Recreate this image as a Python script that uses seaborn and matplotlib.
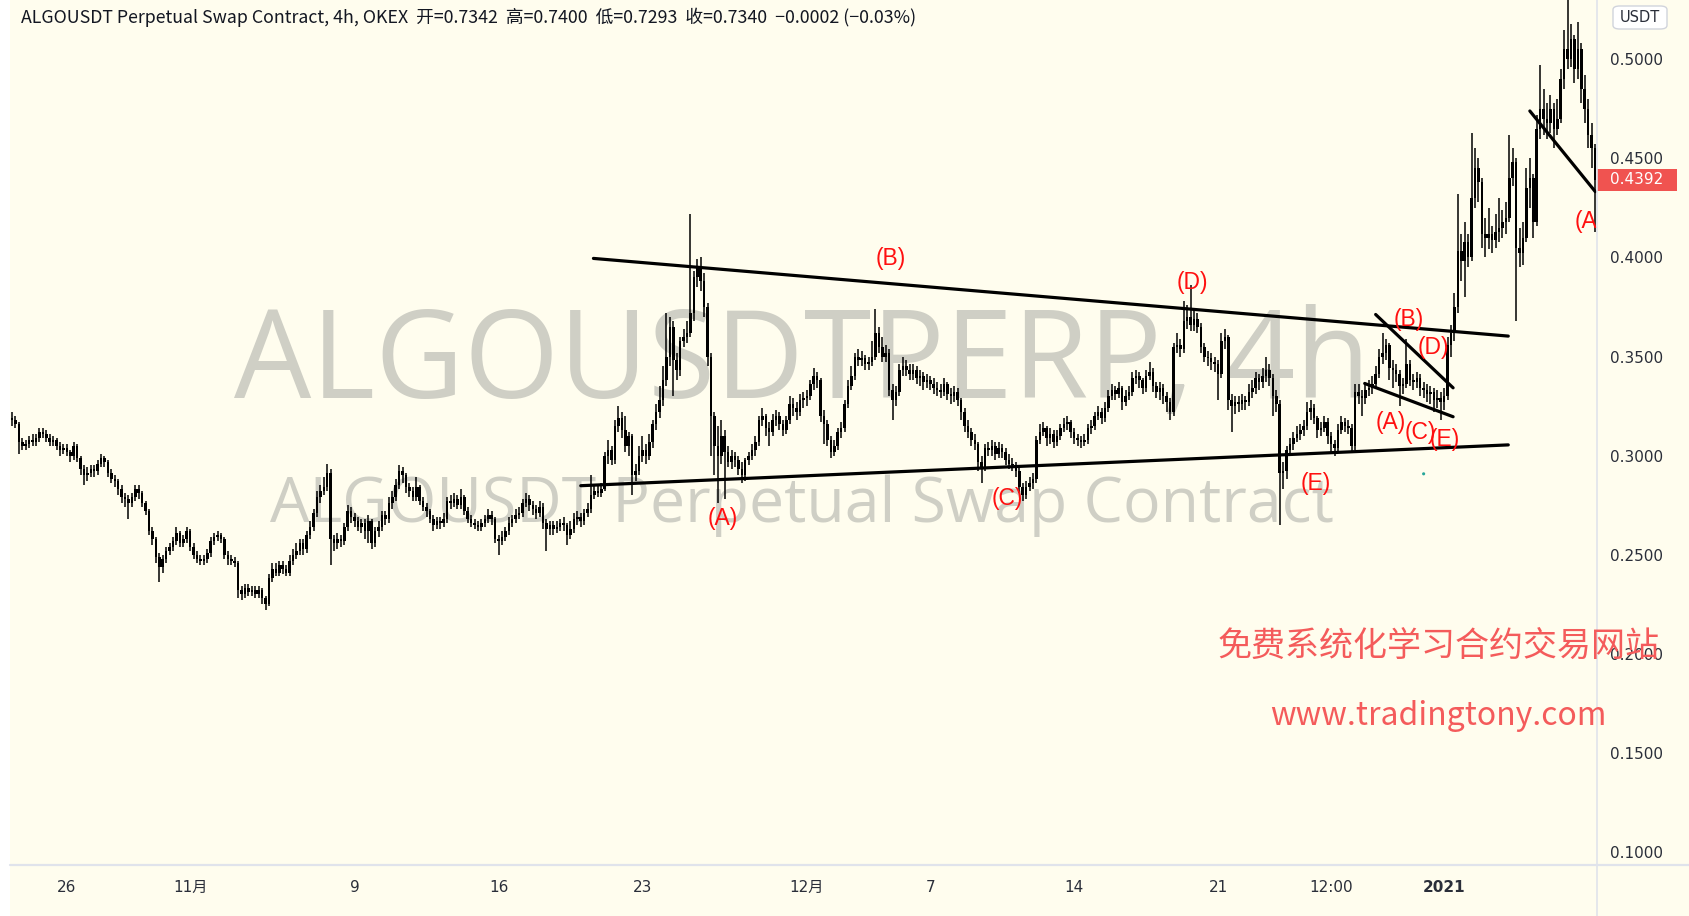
import numpy as np
import pandas as pd
import matplotlib
matplotlib.use("Agg")
import matplotlib.pyplot as plt
import matplotlib.transforms as mtransforms
from matplotlib.patches import Rectangle, FancyBboxPatch
from matplotlib.lines import Line2D
import seaborn as sns

# ---------------- data (prices in thousandths of USDT, 4h candles) ----------------
START = "2020-10-23 08:00"
FIRST_OPEN = 319

CLOSE = [
    318, 316, 307, 305,                    # Oct 23
    306, 308, 307, 309, 312, 311,          # Oct 24
    309, 307, 308, 305, 303, 304,          # Oct 25
    302, 300, 305, 299, 293, 290,          # Oct 26
    291, 293, 292, 296, 299, 297,          # Oct 27
    291, 288, 287, 283, 279, 278,          # Oct 28
    276, 279, 283, 281, 276, 272,          # Oct 29
    262, 258, 249, 244, 248, 252,          # Oct 30
    254, 257, 261, 256, 258, 262,          # Oct 31
    254, 250, 248, 247, 248, 251,          # Nov 1
    257, 259, 260, 258, 250, 248,          # Nov 2
    247, 246, 232, 230, 233, 231,          # Nov 3
    232, 230, 232, 228, 225, 238,          # Nov 4
    243, 241, 245, 243, 241, 247,          # Nov 5
    250, 252, 256, 253, 260, 264,          # Nov 6
    271, 279, 282, 284, 291, 258,          # Nov 7
    256, 258, 257, 264, 272, 269,          # Nov 8
    267, 264, 266, 262, 267, 256,          # Nov 9
    262, 264, 270, 268, 276, 279,          # Nov 10
    285, 292, 290, 284, 282, 279,          # Nov 11
    284, 277, 274, 272, 268, 265,          # Nov 12
    267, 266, 268, 277, 276, 278,          # Nov 13
    275, 279, 272, 268, 266, 265,          # Nov 14
    264, 266, 268, 270, 268, 258,          # Nov 15
    257, 259, 262, 266, 268, 270,          # Nov 16
    271, 276, 278, 275, 273, 271,          # Nov 17
    274, 266, 263, 265, 263, 264,          # Nov 18
    266, 265, 260, 263, 268, 269,          # Nov 19
    267, 271, 273, 280, 282, 281,          # Nov 20
    283, 300, 303, 298, 315, 319,          # Nov 21
    313, 305, 310, 290, 292, 300,          # Nov 22
    303, 300, 307, 316, 322, 328,          # Nov 23
    338, 350, 365, 348, 343, 358,          # Nov 24
    360, 362, 372, 390, 395, 388,          # Nov 25
    375, 350, 320, 305, 300, 310,          # Nov 26
    302, 297, 300, 298, 293, 290,          # Nov 27
    298, 300, 303, 307, 318, 320,          # Nov 28
    314, 312, 318, 320, 316, 313,          # Nov 29
    318, 326, 324, 322, 328, 329,          # Nov 30
    330, 336, 340, 338, 320, 316,          # Dec 1
    308, 302, 305, 312, 314, 326,          # Dec 2
    335, 340, 350, 348, 349, 346,          # Dec 3
    347, 350, 362, 355, 350, 352,          # Dec 4
    333, 328, 332, 343, 345, 343,          # Dec 5
    341, 343, 339, 340, 337, 338,          # Dec 6
    336, 334, 333, 332, 336, 331,          # Dec 7
    330, 332, 328, 322, 315, 312,          # Dec 8
    308, 306, 297, 294, 304, 303,          # Dec 9
    305, 301, 304, 302, 298, 296,          # Dec 10
    295, 292, 284, 280, 284, 286,          # Dec 11
    288, 308, 312, 314, 309, 311,          # Dec 12
    307, 310, 314, 316, 317, 312,          # Dec 13
    309, 308, 307, 308, 314, 315,          # Dec 14
    320, 322, 319, 324, 330, 333,          # Dec 15
    331, 334, 327, 330, 332, 339,          # Dec 16
    340, 338, 334, 340, 342, 335,          # Dec 17
    332, 334, 330, 327, 322, 355,          # Dec 18
    356, 354, 368, 370, 366, 369,          # Dec 19
    365, 355, 350, 349, 347, 346,          # Dec 20
    341, 358, 360, 328, 325, 327,          # Dec 21
    326, 328, 327, 332, 334, 339,          # Dec 22
    337, 340, 343, 339, 330, 326,          # Dec 23
    291, 292, 303, 306, 309, 311,          # Dec 24
    313, 315, 322, 324, 319, 313,          # Dec 25
    314, 317, 310, 306, 304, 313,          # Dec 26
    317, 315, 314, 305, 332, 330,          # Dec 27
    329, 333, 334, 336, 341, 350,          # Dec 28
    352, 356, 344, 343, 341, 335,          # Dec 29
    336, 346, 338, 337, 339, 334,          # Dec 30
    333, 331, 332, 328, 329, 327,          # Dec 31
    330, 356, 362, 375, 403, 398,          # Jan 1
    408, 400, 430, 445, 438, 412,          # Jan 2
    410, 412, 409, 413, 415, 418,          # Jan 3
    420, 440, 448, 405, 402, 410,          # Jan 4
    435, 440, 418, 465, 475, 470,          # Jan 5
    468, 475, 465, 470, 490, 505,          # Jan 6
    500, 510, 495, 505, 485, 475,          # Jan 7
    462, 455, 439.2,                       # Jan 8
]

HIGH = [
    322, 320, 317, 309,
    308, 310, 311, 311, 314, 314,
    313, 311, 310, 309, 307, 306,
    306, 303, 307, 306, 300, 295,
    294, 295, 295, 298, 301, 300,
    298, 293, 290, 288, 285, 281,
    280, 281, 285, 285, 282, 277,
    273, 264, 259, 251, 250, 254,
    256, 259, 264, 262, 260, 264,
    263, 256, 252, 250, 250, 253,
    259, 261, 262, 261, 259, 252,
    250, 249, 247, 234, 235, 235,
    234, 234, 234, 233, 229, 240,
    246, 246, 247, 247, 245, 250,
    253, 256, 258, 258, 262, 267,
    273, 282, 285, 289, 296, 293,
    260, 261, 260, 266, 275, 274,
    271, 269, 268, 268, 270, 268,
    264, 267, 272, 272, 279, 282,
    288, 295, 294, 291, 286, 284,
    289, 285, 279, 276, 273, 270,
    269, 269, 271, 279, 280, 281,
    280, 283, 280, 274, 270, 268,
    267, 268, 270, 273, 272, 269,
    260, 262, 264, 269, 270, 273,
    274, 278, 281, 280, 277, 275,
    277, 276, 268, 267, 267, 267,
    268, 269, 266, 267, 271, 272,
    271, 273, 276, 290, 285, 285,
    286, 302, 308, 305, 318, 325,
    322, 320, 312, 311, 296, 305,
    310, 306, 311, 318, 326, 335,
    345, 372, 370, 368, 352, 360,
    364, 368, 422, 393, 399, 400,
    392, 377, 352, 322, 315, 318,
    313, 305, 303, 302, 300, 297,
    299, 302, 306, 310, 320, 324,
    321, 317, 321, 323, 322, 318,
    320, 330, 329, 327, 331, 332,
    333, 338, 344, 342, 339, 323,
    318, 310, 308, 314, 317, 328,
    338, 345, 352, 354, 353, 351,
    350, 358, 374, 365, 360, 356,
    354, 336, 335, 346, 350, 348,
    346, 346, 345, 343, 342, 341,
    340, 339, 337, 336, 339, 337,
    334, 335, 334, 329, 324, 318,
    314, 311, 307, 300, 306, 307,
    308, 307, 307, 306, 304, 301,
    299, 297, 294, 286, 287, 289,
    291, 310, 316, 317, 315, 314,
    313, 313, 316, 319, 320, 318,
    314, 311, 310, 311, 316, 318,
    322, 325, 324, 327, 333, 336,
    335, 337, 335, 333, 335, 342,
    343, 342, 339, 343, 347, 344,
    337, 337, 336, 332, 329, 357,
    362, 359, 378, 376, 386, 374,
    372, 367, 357, 353, 352, 350,
    348, 362, 364, 361, 331, 330,
    330, 331, 330, 336, 338, 342,
    341, 344, 350, 346, 341, 333,
    328, 297, 305, 309, 312, 315,
    316, 318, 327, 328, 326, 320,
    317, 320, 319, 312, 308, 316,
    320, 319, 318, 316, 336, 336,
    333, 336, 338, 340, 345, 354,
    362, 359, 357, 348, 346, 343,
    339, 359, 348, 341, 342, 341,
    337, 336, 335, 334, 333, 332,
    334, 360, 366, 382, 432, 412,
    418, 412, 463, 455, 450, 440,
    420, 425, 416, 422, 430, 424,
    428, 462, 455, 450, 415, 418,
    445, 450, 442, 472, 497, 485,
    478, 482, 478, 480, 495, 515,
    530, 518, 512, 519, 508, 492,
    480, 468, 457,
]

LOW = [
    315, 314, 301, 303,
    303, 304, 305, 305, 307, 309,
    307, 305, 305, 303, 300, 301,
    300, 297, 298, 297, 290, 285,
    287, 289, 289, 290, 294, 294,
    289, 286, 284, 280, 276, 274,
    268, 274, 277, 278, 274, 270,
    260, 255, 246, 236, 241, 246,
    250, 252, 255, 254, 254, 256,
    252, 248, 246, 245, 245, 246,
    249, 255, 257, 256, 248, 245,
    245, 244, 228, 227, 228, 229,
    229, 228, 228, 225, 222, 224,
    236, 239, 239, 240, 239, 239,
    245, 248, 250, 250, 251, 258,
    262, 269, 276, 280, 282, 245,
    252, 253, 254, 255, 262, 266,
    264, 262, 261, 258, 256, 253,
    254, 259, 262, 265, 266, 273,
    277, 283, 286, 281, 279, 277,
    277, 275, 272, 269, 266, 262,
    263, 263, 264, 266, 273, 274,
    273, 273, 270, 266, 264, 263,
    262, 262, 264, 266, 265, 256,
    250, 255, 257, 260, 264, 266,
    268, 269, 274, 272, 270, 268,
    269, 263, 252, 260, 260, 261,
    262, 262, 255, 258, 261, 265,
    264, 265, 269, 271, 278, 279,
    279, 282, 296, 295, 296, 312,
    309, 302, 300, 280, 287, 290,
    297, 296, 298, 304, 313, 319,
    325, 335, 345, 330, 338, 340,
    355, 357, 360, 368, 385, 383,
    370, 345, 300, 290, 276, 296,
    278, 294, 293, 294, 290, 286,
    287, 295, 298, 300, 305, 315,
    310, 305, 310, 315, 313, 310,
    311, 316, 320, 318, 320, 324,
    325, 328, 333, 334, 317, 306,
    305, 299, 300, 303, 309, 312,
    324, 333, 338, 345, 345, 343,
    343, 345, 348, 352, 347, 347,
    330, 318, 325, 330, 340, 340,
    338, 338, 336, 335, 333, 334,
    333, 331, 330, 329, 330, 328,
    326, 327, 325, 318, 312, 309,
    305, 303, 292, 286, 292, 300,
    300, 298, 299, 299, 295, 293,
    292, 289, 281, 277, 278, 282,
    283, 286, 306, 310, 305, 306,
    304, 305, 308, 312, 313, 309,
    306, 305, 304, 305, 306, 311,
    313, 318, 316, 317, 322, 328,
    328, 329, 323, 325, 328, 330,
    336, 334, 331, 332, 338, 332,
    329, 328, 326, 322, 318, 320,
    352, 350, 352, 364, 363, 363,
    362, 352, 347, 345, 343, 342,
    328, 339, 354, 323, 312, 321,
    322, 323, 323, 325, 329, 331,
    333, 334, 337, 335, 320, 322,
    265, 283, 288, 300, 303, 307,
    308, 310, 313, 318, 316, 309,
    310, 312, 306, 302, 300, 302,
    311, 312, 311, 302, 303, 326,
    320, 326, 330, 331, 334, 339,
    346, 348, 338, 334, 337, 325,
    331, 334, 335, 333, 334, 330,
    329, 327, 326, 322, 324, 318,
    323, 328, 350, 358, 372, 388,
    380, 395, 398, 425, 428, 405,
    400, 404, 402, 405, 408, 410,
    412, 418, 436, 368, 395, 396,
    408, 425, 410, 416, 460, 462,
    460, 463, 455, 462, 468, 485,
    495, 496, 488, 490, 478, 468,
    455, 445, 413,
]

LAST_PRICE = 0.4392

# x tick labels
TICK_DATES = ["2020-10-26", "2020-11-01", "2020-11-09", "2020-11-16", "2020-11-23",
              "2020-12-01", "2020-12-07", "2020-12-14", "2020-12-21",
              "2020-12-26 12:00", "2021-01-01"]
TICK_LABELS = ["26", "11月", "9", "16", "23", "12月", "7", "14", "21", "12:00", "2021"]
Y_TICKS = [0.10, 0.15, 0.20, 0.25, 0.30, 0.35, 0.40, 0.45, 0.50]

# drawn trend lines: (candle no. start, price start, candle no. end, price end)
TREND_LINES = [
    (169.7, 0.3995, 436.7, 0.3603),
    (166.0, 0.2848, 436.7, 0.3054),
    (398.0, 0.3712, 420.6, 0.3342),
    (394.8, 0.3364, 420.6, 0.3196),
    (443.0, 0.4739, 462.1, 0.4332),
]
# wave labels: (text, candle no., price)
WAVE_LABELS = [
    ("(B)", 256.5, 0.3995), ("(A)", 207.5, 0.2685), ("(C)", 290.5, 0.2783),
    ("(D)", 344.5, 0.3875), ("(E)", 380.4, 0.2859),
    ("(B)", 407.7, 0.3685), ("(D)", 414.7, 0.3543), ("(A)", 402.4, 0.3168),
    ("(C)", 410.9, 0.3114), ("(E)", 418.1, 0.3082),
]
END_LABEL = ("(A)", 456.0, 0.418)
DOT = (412.0, 0.2908)

TITLE = ("ALGOUSDT Perpetual Swap Contract, 4h, OKEX  开=0.7342  高=0.7400  "
         "低=0.7293  收=0.7340  −0.0002 (−0.03%)")
WATERMARK_1 = "ALGOUSDTPERP, 4h"
WATERMARK_2 = "ALGOUSDT Perpetual Swap Contract"
PROMO_1 = "免费系统化学习合约交易网站"
PROMO_2 = "www.tradingtony.com"

# ---------------- prepare ----------------
close = np.array(CLOSE, dtype=float) / 1000.0
opn = np.r_[FIRST_OPEN / 1000.0, close[:-1]]
high = np.maximum(np.array(HIGH, dtype=float) / 1000.0, np.maximum(opn, close))
low = np.minimum(np.array(LOW, dtype=float) / 1000.0, np.minimum(opn, close))
n = len(close)
xi = np.arange(n)
start = pd.Timestamp(START)
tick_pos = [(pd.Timestamp(d) - start) / pd.Timedelta("4h") for d in TICK_DATES]

# ---------------- style ----------------
BG = "#FFFDEE"
sns.set_theme(style="white")
plt.rcParams["font.family"] = ["Noto Sans CJK SC", "DejaVu Sans"]

W, H = 1689, 916
fig = plt.figure(figsize=(W / 100, H / 100), dpi=100, facecolor=BG)
ax_l, ax_r, ax_b = 10, 1597, 865
ax = fig.add_axes([ax_l / W, 1 - ax_b / H, (ax_r - ax_l) / W, ax_b / H], facecolor=BG)

# left white frame strip
fig.patches.append(Rectangle((0, 0), ax_l / W, 1, transform=fig.transFigure,
                             facecolor="#FFFFFF", edgecolor="none", zorder=-1))

ax.set_xlim(-0.58, 462.6)
ax.set_ylim(0.0934, 0.5299)

# watermark
ax.text(0.499, 0.577, WATERMARK_1, transform=ax.transAxes, ha="center", va="center",
        fontsize=88, color="#CFCFC5", family="Open Sans", zorder=0)
ax.text(0.499, 0.415, WATERMARK_2, transform=ax.transAxes, ha="center", va="center",
        fontsize=45, color="#CFCFC5", family="Open Sans", zorder=0)

# candles
ax.vlines(xi, low, high, color="#000000", lw=1.1, zorder=2)
body_h = np.maximum(np.abs(close - opn), 0.0007)
ax.bar(xi, body_h, bottom=np.minimum(opn, close), width=0.74, color="#000000",
       edgecolor="none", zorder=2)

# trend lines
for x0, y0, x1, y1 in TREND_LINES:
    sns.lineplot(x=[x0, x1], y=[y0, y1], color="black", lw=2.3, ax=ax, zorder=3,
                 estimator=None, sort=False)
sns.scatterplot(x=[DOT[0]], y=[DOT[1]], color="#26A69A", s=5, ax=ax, zorder=3,
                edgecolor="none")

# wave labels
for t, x, y in WAVE_LABELS:
    ax.text(x, y, t, ha="center", va="center", fontsize=16.5, color="#FF1010",
            family="Liberation Sans", zorder=4)
ax.text(END_LABEL[1], END_LABEL[2], END_LABEL[0], ha="left", va="center",
        fontsize=16.5, color="#FF1010", family="Liberation Sans", zorder=4,
        clip_on=True)

# axes / ticks
ax.set_xticks(tick_pos)
ax.set_xticklabels(TICK_LABELS)
ax.set_yticks(Y_TICKS)
ax.set_yticklabels([f"{v:.4f}" for v in Y_TICKS])
ax.yaxis.tick_right()
ax.tick_params(axis="y", length=0, pad=9.5, labelsize=11, labelcolor="#2A2E39",
               labelfontfamily="DejaVu Sans")
ax.tick_params(axis="x", length=0, pad=11, labelsize=11, labelcolor="#2A2E39",
               labelfontfamily="DejaVu Sans")
for lbl in ax.get_xticklabels():
    if lbl.get_text() == "2021":
        lbl.set_fontweight("bold")
    if "月" in lbl.get_text():
        lbl.set_fontfamily(["DejaVu Sans", "Noto Sans CJK SC"])
ax.set_xlabel("")
ax.set_ylabel("")
ax.grid(False)
for s in ax.spines.values():
    s.set_visible(False)

# separators
fig.add_artist(Line2D([ax_l / W, 1], [1 - ax_b / H] * 2, transform=fig.transFigure,
                      color="#E0E3EB", lw=1.6))
fig.add_artist(Line2D([ax_r / W] * 2, [0, 1], transform=fig.transFigure,
                      color="#E0E3EB", lw=1.2))

# last price tag
blend = mtransforms.blended_transform_factory(ax.transAxes, ax.transData)
ax.add_patch(Rectangle((1.0, LAST_PRICE - 0.0056), 80 / (ax_r - ax_l), 0.0112,
                       transform=blend, facecolor="#F05350", edgecolor="none",
                       clip_on=False, zorder=5))
ax.text(1 + 13 / (ax_r - ax_l), LAST_PRICE, f"{LAST_PRICE:.4f}", transform=blend,
        ha="left", va="center", fontsize=11, color="white", family="DejaVu Sans",
        clip_on=False, zorder=6)

# currency box
fig.patches.append(FancyBboxPatch((1613 / W, 1 - 29 / H), 54 / W, 23 / H,
                                  boxstyle="round,pad=0,rounding_size=0.004",
                                  transform=fig.transFigure, facecolor="#FFFFFF",
                                  edgecolor="#D1D4DC", lw=1.0))
fig.text(1640 / W, 1 - 17.5 / H, "USDT", ha="center", va="center", fontsize=10.5,
         color="#2A2E39", family="DejaVu Sans")

# title legend
fig.text(21 / W, 1 - 17 / H, TITLE, ha="left", va="center", fontsize=12.8,
         color="#131722")

# promo texts
fig.text(1439 / W, 1 - 646 / H, PROMO_1, ha="center", va="center", fontsize=24.5,
         color="#F45B5B", zorder=10)
fig.text(1438 / W, 1 - 716 / H, PROMO_2, ha="center", va="center", fontsize=23,
         color="#F45B5B", zorder=10)

fig.savefig("out.png", dpi=100, facecolor=BG)
